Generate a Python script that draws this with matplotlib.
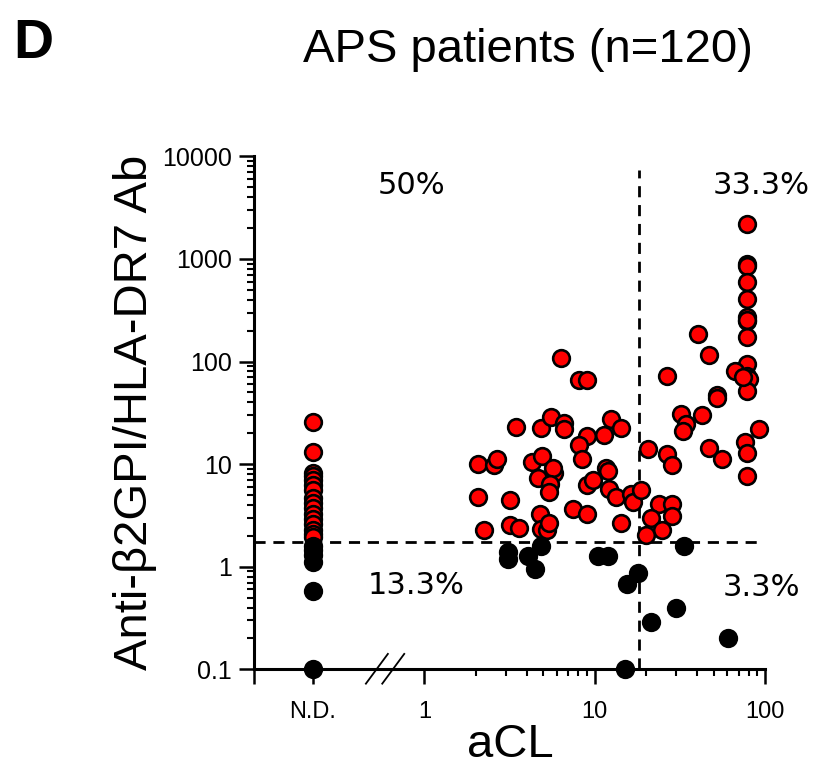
import numpy as np
import matplotlib.pyplot as plt
from matplotlib.ticker import FixedLocator, LogLocator, NullFormatter

plt.rcParams['font.family'] = ['Liberation Sans', 'DejaVu Sans']

# anti-b2GPI/HLA-DR7 Ab in patients with aCL below detection (N.D.)
nd_ab = [26, 13, 8.2, 7.6, 7.0, 6.3, 5.6, 4.7, 4.2, 3.7, 3.3, 2.9, 2.6, 2.3,
         2.1, 1.95, 1.6, 1.45, 1.3, 1.1, 0.58, 0.1]

# patients with measurable aCL
acl = [6.35, 3.43, 4.86, 5.56, 2.06, 2.58, 2.66, 4.3, 4.9, 4.65, 5.8, 5.7,
       5.5, 5.4, 2.06, 3.2, 4.76, 2.25, 3.2, 3.6, 4.86, 5.23, 5.4, 8.1,
       9.0, 6.65, 6.65, 12.4, 14.3, 11.4, 9.05, 8.1, 8.4, 11.6, 11.95, 9.05,
       9.8, 12.2, 13.4, 16.4, 16.9, 7.5, 9.05, 14.3,
       78.7, 78.7, 78.7, 78.7, 78.7, 78.7, 78.7, 78.7, 78.7, 78.7, 80, 78.7,
       67, 74.5, 40.5, 47, 26.6, 52, 52, 32.3, 34.6, 33, 42.8, 92, 76, 78.7,
       78.7, 47, 55.6, 20.5, 26.6, 28.5, 18.8, 24, 28.5, 28.5, 21.5, 25, 20.1,
       78.7,
       4.86, 3.09, 3.09, 4.05, 4.45, 10.4, 11.9, 15.5, 15.0, 18.0,
       33.3, 30.2, 21.3, 61]
ab = [108, 23.2, 22.4, 29, 10.1, 9.9, 11.3, 10.4, 11.9, 7.4, 8.2, 9.2,
      6.45, 5.35, 4.8, 4.5, 3.3, 2.27, 2.54, 2.39, 2.31, 2.27, 2.64, 66,
      66, 25, 22, 27.6, 22.6, 19.4, 19, 15.2, 11.3, 9.2, 8.55, 6.2,
      6.95, 5.7, 4.8, 5.16, 4.28, 3.69, 3.3, 2.67,
      2200, 900, 850, 600, 410, 270, 250, 175, 94, 73, 68, 52,
      80, 70, 185, 115, 71.5, 47, 44, 31, 24.7, 21, 30, 22, 16.4, 12.8,
      7.6, 14.4, 11.1, 14.1, 12.6, 9.9, 5.6, 4.1, 4.1, 3.1, 3.0, 2.27, 2.06,
      255,
      1.59, 1.40, 1.18, 1.27, 0.96, 1.27, 1.27, 0.68, 0.1, 0.87,
      1.59, 0.395, 0.29, 0.2]

acl_cutoff = 18.2
ab_cutoff = 1.75
x_nd = 0.222   # where the N.D. column sits on the aCL axis

quad_labels = ['50%', '33.3%', '13.3%', '3.3%']

x = np.array([x_nd] * len(nd_ab) + acl)
y = np.array(nd_ab + ab)
pos = y > ab_cutoff

fig = plt.figure(figsize=(8.3, 7.76), dpi=100)
ax = fig.add_axes([0.306, 0.1375, 0.6157, 0.661])
ax.set_xscale('log')
ax.set_yscale('log')
ax.set_xlim(0.1, 100)
ax.set_ylim(0.1, 10000)

# cut-off lines
dash = (0, (4, 2.8))
ax.vlines(acl_cutoff, 0.1, 7400, colors='k', linestyles=dash, lw=2.0, zorder=2)
ax.hlines(ab_cutoff, 0.1, 90, colors='k', linestyles=dash, lw=2.0, zorder=2)

ax.plot(x[pos], y[pos], 'o', ms=12, mfc='#ff0000', mec='k', mew=1.9,
        ls='none', clip_on=False, zorder=3)
ax.plot(x[~pos], y[~pos], 'o', ms=12, mfc='k', mec='k', mew=1.9,
        ls='none', clip_on=False, zorder=4)

for s in ['top', 'right']:
    ax.spines[s].set_visible(False)
for s in ['left', 'bottom']:
    ax.spines[s].set_linewidth(2.2)

ax.set_yticks([0.1, 1, 10, 100, 1000, 10000])
ax.set_yticklabels(['0.1', '1', '10', '100', '1000', '10000'])
ax.yaxis.set_minor_locator(LogLocator(base=10, subs=np.arange(2, 10)))
ax.yaxis.set_minor_formatter(NullFormatter())

ax.set_xticks([0.1, x_nd, 1, 10, 100])
ax.set_xticklabels(['', 'N.D.', '1', '10', '100'])
ax.xaxis.set_minor_locator(FixedLocator([2, 3, 4, 5, 6, 7, 8, 9,
                                         20, 30, 40, 50, 60, 70, 80, 90]))
ax.xaxis.set_minor_formatter(NullFormatter())

ax.tick_params(which='major', length=11, width=1.8, direction='out')
ax.tick_params(which='minor', length=5, width=1.5, direction='out')
ax.tick_params(axis='y', labelsize=18, pad=5)
ax.tick_params(axis='x', labelsize=17, pad=12)

# axis break marks
for x0 in [0.219, 0.251]:
    ax.plot([x0, x0 + 0.043], [-0.028, 0.03], color='k', lw=1.3,
            transform=ax.transAxes, clip_on=False)

qfont = dict(family='DejaVu Sans', fontsize=22, ha='center', va='center',
             transform=ax.transAxes)
ax.text(0.309, 0.944, quad_labels[0], **qfont)
ax.text(0.992, 0.944, quad_labels[1], **qfont)
ax.text(0.317, 0.164, quad_labels[2], **qfont)
ax.text(0.992, 0.160, quad_labels[3], **qfont)

fig.text(0.163, 0.468, 'Anti-β2GPI/HLA-DR7 Ab', rotation=90, fontsize=34,
         ha='center', va='center')
fig.text(0.615, 0.04, 'aCL', fontsize=34, ha='center', va='center')
fig.text(0.636, 0.92, 'APS patients (n=120)', fontsize=34, ha='center',
         va='baseline')
fig.text(0.016, 0.925, 'D', fontsize=40, fontweight='bold', ha='left',
         va='baseline')

fig.savefig('out.png', dpi=100)
